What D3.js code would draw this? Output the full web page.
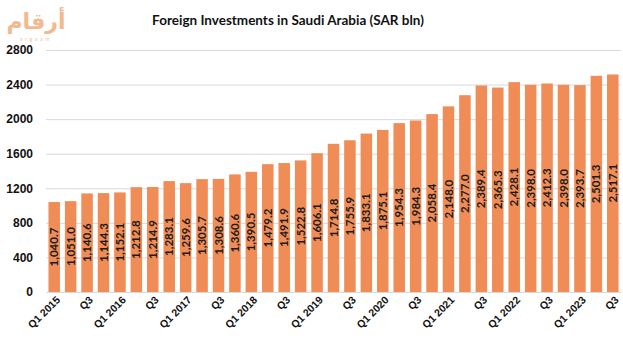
<!DOCTYPE html>
<html>
<head>
<meta charset="utf-8">
<script src="https://cdn.jsdelivr.net/npm/d3@7"></script>
<style>
  body { margin: 0; background: #fff; }
  svg { display: block; font-family: Lato, "Open Sans", sans-serif; }
</style>
</head>
<body>
<div id="chart"></div>
<script>
var years = [2015, 2016, 2017, 2018, 2019, 2020, 2021, 2022, 2023];
var quarters = ["Q1", "Q2", "Q3", "Q4"];

var values = [1040.7, 1051.0, 1140.6, 1144.3, 1152.1, 1212.8, 1214.9, 1283.1,
  1259.6, 1305.7, 1308.6, 1360.6, 1390.5, 1479.2, 1491.9, 1522.8,
  1606.1, 1714.8, 1755.9, 1833.1, 1875.1, 1954.3, 1984.3, 2058.4,
  2148.0, 2277.0, 2389.4, 2365.3, 2428.1, 2398.0, 2412.3, 2398.0,
  2393.7, 2501.3, 2517.1];

var yTicks = [0, 400, 800, 1200, 1600, 2000, 2400, 2800];

// one period per value, Q1 2015 onwards
var periods = values.map(function(v, i) {
  return { q: quarters[i % 4], year: years[Math.floor(i / 4)], value: v, i: i };
});

var W = 623, H = 347;
var margin = {top: 50, right: 2, bottom: 55, left: 46};
var width = W - margin.left - margin.right,
    height = H - margin.top - margin.bottom;

var svg = d3.select("#chart").append("svg")
  .attr("width", W).attr("height", H);

// logo
svg.append("text")
  .attr("x", 36).attr("y", 29)
  .attr("text-anchor", "middle")
  .attr("direction", "rtl")
  .style("font-family", "'Noto Sans', 'DejaVu Sans', sans-serif")
  .style("font-size", "22px")
  .style("font-weight", "bold")
  .style("letter-spacing", "1px")
  .style("fill", "#f3b88f")
  .text("أرقام");
svg.append("text")
  .attr("x", 36).attr("y", 41)
  .attr("text-anchor", "middle")
  .style("font-size", "5.5px")
  .style("letter-spacing", "2.5px")
  .style("fill", "#f3c4a4")
  .text("argaam");

svg.append("text")
  .attr("x", 288).attr("y", 25)
  .attr("text-anchor", "middle")
  .style("font-size", "13.5px")
  .style("font-weight", "bold")
  .style("fill", "#111")
  .text("Foreign Investments in Saudi Arabia (SAR bln)");

var g = svg.append("g")
  .attr("transform", "translate(" + margin.left + "," + margin.top + ")");

var x = d3.scaleBand()
  .domain(periods.map(function(d) { return d.i; }))
  .range([0, width])
  .paddingInner(0.3)
  .paddingOuter(0.15);

var y = d3.scaleLinear()
  .domain([0, 2800])
  .range([height, 0]);

// gridlines + y labels
var yAxis = g.append("g")
  .call(d3.axisLeft(y).tickValues(yTicks).tickSize(-width).tickFormat(d3.format("d")));
yAxis.select(".domain").remove();
yAxis.selectAll(".tick line").attr("stroke", "#d9d9d9");
yAxis.selectAll(".tick text")
  .attr("x", -13)
  .style("font-size", "12px")
  .style("font-weight", "bold")
  .style("fill", "#111");

g.selectAll(".bar")
  .data(periods)
  .join("rect")
  .attr("class", "bar")
  .attr("x", function(d) { return x(d.i); })
  .attr("y", function(d) { return y(d.value); })
  .attr("width", x.bandwidth())
  .attr("height", function(d) { return height - y(d.value); })
  .attr("fill", "#f08c55");

var fmt = d3.format(",.1f");

g.selectAll(".val")
  .data(periods)
  .join("text")
  .attr("class", "val")
  .attr("transform", function(d) {
    var cx = x(d.i) + x.bandwidth() / 2;
    var cy = (y(d.value) + height) / 2;
    return "translate(" + cx + "," + cy + ") rotate(-90)";
  })
  .attr("text-anchor", "middle")
  .attr("dy", "0.35em")
  .style("font-size", "11.5px")
  .style("font-weight", "bold")
  .style("fill", "#1a1a1a")
  .text(function(d) { return fmt(d.value); });

// every other quarter gets a label
var xAxis = g.append("g")
  .attr("transform", "translate(0," + height + ")")
  .call(d3.axisBottom(x)
    .tickValues(periods.filter(function(d) { return d.i % 2 === 0; }).map(function(d) { return d.i; }))
    .tickSize(0)
    .tickFormat(function(i) {
      var p = periods[i];
      return p.q === "Q1" ? "Q1 " + p.year : p.q;
    }));
xAxis.select(".domain").remove();
xAxis.selectAll("text")
  .attr("text-anchor", "end")
  .attr("transform", "translate(4,6) rotate(-45)")
  .attr("dy", "0.35em")
  .attr("y", 0)
  .style("font-size", "10.5px")
  .style("font-weight", "bold")
  .style("fill", "#111");
</script>
</body>
</html>
